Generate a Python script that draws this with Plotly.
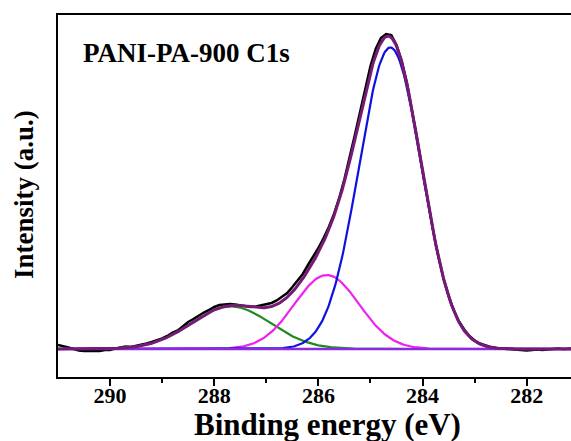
import numpy as np
import plotly.graph_objects as go

# Measured C1s spectrum, binding energy 291.0 -> 281.1 eV in 0.1 eV steps
energy_start, energy_step = 291.0, -0.1
intensity = [
    4, 3, 1.5, 0, -1.5, -2, -2, -1.5, -2, -1,
    -1, 0.5, 1.5, 2.5, 2, 3, 4, 5.5, 7, 8.5,
    10.5, 13, 16.5, 18.5, 22.5, 27, 30, 33.5, 36.5, 39,
    42, 44, 44.5, 45, 44.5, 43.5, 42.5, 42, 42.5, 43.5,
    44.5, 46, 48.5, 52, 56, 62, 68, 75, 84, 92,
    101, 111, 122, 135, 151, 170, 191, 214, 237, 261,
    283, 300, 311, 315, 314, 304, 288, 266, 239, 209,
    178, 147, 119, 93, 71, 53, 38.5, 27.5, 19.5, 13,
    8.5, 5.5, 3.5, 2, 1, 0.5, 0, -0.5, -1, -1.5,
    -1.5, -1, -0.5, -1, -0.5, 0, 0.5, 0, 0.5, 0.5,
]
energy = np.round(energy_start + energy_step * np.arange(len(intensity)), 2)

# Fitted Gaussian components: centre (eV), sigma (eV), height
peak_names = ["C-C", "C-N", "C-O"]
peak_centers = [284.62, 285.84, 287.68]
peak_sigmas = [0.60, 0.62, 0.76]
peak_heights = [301.5, 74.0, 42.6]
peak_colors = ["#1010e0", "#ee22ee", "#1f8a1f"]

fit_x = np.linspace(291.0, 281.1, 496)
components = [h * np.exp(-0.5 * ((fit_x - c) / s) ** 2)
              for c, s, h in zip(peak_centers, peak_sigmas, peak_heights)]
envelope = np.sum(components, axis=0)
baseline = np.zeros_like(fit_x)

fig = go.Figure()
fig.add_trace(go.Scatter(x=energy, y=intensity, mode="lines",
                         line=dict(color="black", width=2.5), name="Raw"))
for comp, col, nm in zip(components[::-1], peak_colors[::-1], peak_names[::-1]):
    fig.add_trace(go.Scatter(x=fit_x, y=comp, mode="lines",
                             line=dict(color=col, width=2.2), name=nm))
fig.add_trace(go.Scatter(x=fit_x, y=baseline, mode="lines",
                         line=dict(color="#8a2be2", width=2.5), name="Background"))
fig.add_trace(go.Scatter(x=fit_x, y=envelope, mode="lines",
                         line=dict(color="#761a76", width=3), name="Envelope"))

font_family = "Liberation Serif"
fig.update_layout(
    width=571, height=441,
    margin=dict(l=58, r=0, t=15, b=64),
    paper_bgcolor="white", plot_bgcolor="white",
    showlegend=False,
    font=dict(family=font_family, color="black"),
    xaxis=dict(
        range=[291.0, 281.15], tickmode="array",
        tickvals=[290, 288, 286, 284, 282],
        ticktext=["<b>290</b>", "<b>288</b>", "<b>286</b>", "<b>284</b>", "<b>282</b>"],
        ticks="outside", ticklen=7, tickwidth=2, tickcolor="black",
        ticklabelstandoff=-9,
        minor=dict(tickvals=[289, 287, 285, 283], ticks="outside", ticklen=4,
                   tickwidth=2, tickcolor="black"),
        tickfont=dict(size=22, family=font_family),
        showline=True, linewidth=2, linecolor="black", mirror=True,
        showgrid=False, zeroline=False,
    ),
    yaxis=dict(
        range=[-28, 334], showticklabels=False, ticks="",
        showline=True, linewidth=2, linecolor="black", mirror=False,
        showgrid=False, zeroline=False,
    ),
    annotations=[
        dict(text="<b>PANI-PA-900 C1s</b>", xref="paper", yref="paper",
             x=(81 - 58) / 513, y=(377 - 53) / 362, xanchor="left", yanchor="middle",
             showarrow=False, font=dict(size=27, family=font_family)),
        dict(text="<b>Binding energy (eV)</b>", xref="paper", yref="paper",
             x=(327 - 58) / 513, y=-(424 - 377) / 362, xanchor="center", yanchor="middle",
             showarrow=False, font=dict(size=31, family=font_family)),
        dict(text="<b>Intensity (a.u.)</b>", xref="paper", yref="paper",
             x=-(58 - 24) / 513, y=(377 - 195) / 362, xanchor="center", yanchor="middle",
             textangle=-90, showarrow=False, font=dict(size=27, family=font_family)),
    ],
)

fig.write_html("out.html")
